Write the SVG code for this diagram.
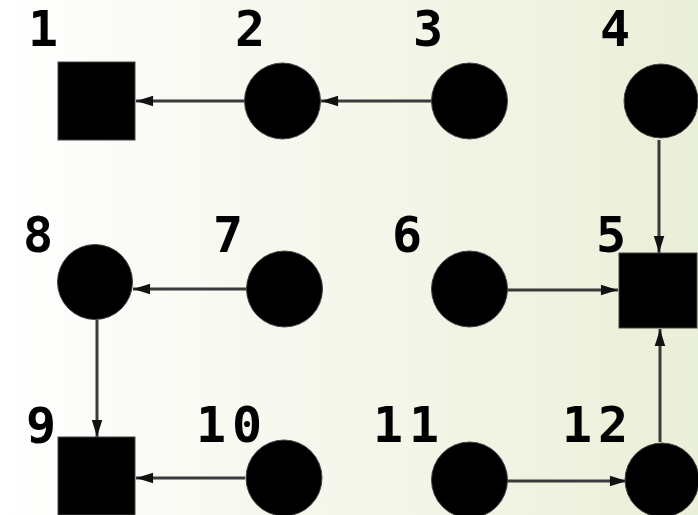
<svg xmlns="http://www.w3.org/2000/svg" width="698" height="515" viewBox="0 0 698 515">
<style>
.n{fill:#000;stroke:#444;stroke-width:1}
.l{font-family:"DejaVu Sans Mono","Liberation Mono",monospace;font-weight:bold;font-size:50px;fill:#000;text-anchor:middle;letter-spacing:6px}
.e{stroke:#3a3a3a;stroke-width:3;fill:none;marker-end:url(#a)}
</style>
<defs>
<linearGradient id="bg" x1="0" y1="0" x2="1" y2="0">
<stop offset="0" stop-color="#ffffff"/>
<stop offset="0.15" stop-color="#fbfcf8"/>
<stop offset="1" stop-color="#eaefd8"/>
</linearGradient>
<marker id="a" viewBox="0 0 10 10" refX="10" refY="5" markerWidth="8" markerHeight="7" markerUnits="userSpaceOnUse" orient="auto" overflow="visible">
<path d="M0,0 L10,5 L0,10 z" fill="#111" transform="scale(2.4,1.5) translate(-6,-1.7)"/>
</marker>
</defs>
<rect width="698" height="515" fill="url(#bg)"/>
<g id="edges">
<line class="e" x1="245" y1="101" x2="136" y2="101"/>
<line class="e" x1="432" y1="101" x2="321" y2="101"/>
<line class="e" x1="659" y1="140" x2="659" y2="253"/>
<line class="e" x1="507" y1="290" x2="618" y2="290"/>
<line class="e" x1="660" y1="442" x2="660" y2="329"/>
<line class="e" x1="247" y1="289" x2="133" y2="289"/>
<line class="e" x1="97" y1="320" x2="97" y2="437"/>
<line class="e" x1="245" y1="478" x2="136" y2="478"/>
<line class="e" x1="507" y1="481" x2="627" y2="481"/>
</g>
<g id="n1"><rect class="n" x="58" y="62" width="77" height="78"/><text class="l" x="46" y="46">1</text></g>
<g id="n2"><circle class="n" cx="282.5" cy="101" r="38"/><text class="l" x="253" y="46">2</text></g>
<g id="n3"><circle class="n" cx="469.5" cy="101" r="38"/><text class="l" x="431" y="46">3</text></g>
<g id="n4"><circle class="n" cx="661" cy="101" r="37"/><text class="l" x="618" y="46">4</text></g>
<g id="n5"><rect class="n" x="619" y="253" width="78" height="75"/><text class="l" x="614" y="252">5</text></g>
<g id="n6"><circle class="n" cx="469.5" cy="289" r="38"/><text class="l" x="410" y="252">6</text></g>
<g id="n7"><circle class="n" cx="284.5" cy="289" r="38"/><text class="l" x="231" y="252">7</text></g>
<g id="n8"><circle class="n" cx="95" cy="282" r="37.5"/><text class="l" x="41" y="252">8</text></g>
<g id="n9"><rect class="n" x="58" y="437" width="77" height="78"/><text class="l" x="44" y="443">9</text></g>
<g id="n10"><circle class="n" cx="284" cy="478" r="38"/><text class="l" x="232" y="442">10</text></g>
<g id="n11"><circle class="n" cx="469.5" cy="480" r="38"/><text class="l" x="409" y="442">11</text></g>
<g id="n12"><circle class="n" cx="662" cy="480" r="37"/><text class="l" x="598" y="442">12</text></g>
</svg>
